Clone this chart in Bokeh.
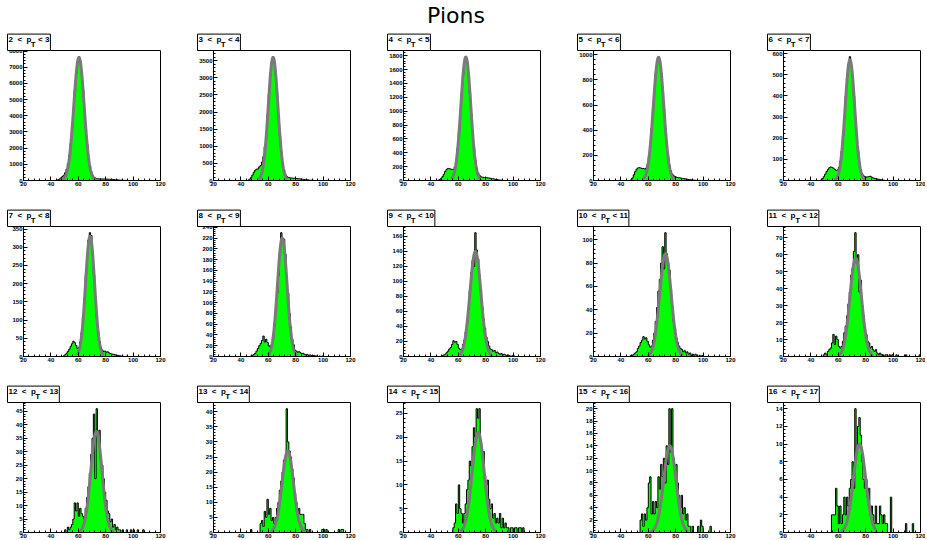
import numpy as np
from bokeh.plotting import figure
from bokeh.layouts import column, row
from bokeh.models import Range1d, FixedTicker, Title, Div
from bokeh.embed import file_html
from bokeh.resources import INLINE

# transverse-momentum slices (GeV/c)
pt_low = list(range(2, 17))
pt_high = list(range(3, 18))

X_MIN, X_MAX = 20, 120   # histogram axis range, unit-wide bins

# bin contents: first bin's left edge, then consecutive counts
start_2_3 = 44
counts_2_3 = [20, 50, 100, 170, 250, 330, 480, 700, 1050, 1580, 2300, 3250, 4400, 5550, 6600,
              7350, 7650, 7350, 6650, 5600, 4400, 3250, 2250, 1450, 900, 540, 330, 210, 150, 120,
              105, 100, 95, 95, 90, 90, 85, 85, 80, 75, 70, 60, 55, 45, 40, 30, 25, 20, 15, 10, 8, 5]
start_3_4 = 45
counts_3_4 = [15, 40, 90, 160, 240, 300, 330, 340, 400, 440, 540, 700, 990, 1400, 1920, 2520,
              3070, 3460, 3620, 3460, 3060, 2500, 1880, 1310, 850, 520, 310, 180, 120, 90, 80, 75,
              70, 65, 65, 60, 55, 50, 45, 40, 35, 30, 25, 20, 15, 10, 8, 5]
start_4_5 = 45
counts_4_5 = [5, 15, 30, 55, 90, 130, 160, 175, 170, 165, 160, 160, 200, 300, 460, 690, 965, 1260,
              1525, 1710, 1785, 1715, 1530, 1265, 965, 690, 460, 290, 180, 110, 75, 55, 48, 45, 42,
              40, 38, 35, 32, 28, 25, 20, 16, 12, 9, 6, 4, 2]
start_5_6 = 47
counts_5_6 = [5, 20, 45, 70, 90, 100, 102, 100, 95, 95, 91, 99, 127, 190, 290, 418, 568, 720, 856,
              950, 985, 950, 856, 720, 568, 418, 290, 190, 122, 78, 52, 38, 30, 27, 24, 22, 20, 18,
              16, 14, 12, 10, 8, 7, 5, 4, 3, 2]
start_6_7 = 47
counts_6_7 = [2, 8, 18, 30, 42, 52, 60, 64, 62, 58, 52, 48, 50, 62, 90, 138, 210, 300, 398, 488,
              550, 585, 540, 488, 398, 300, 210, 138, 85, 52, 32, 22, 18, 16, 17, 19, 20, 15, 12,
              10, 9, 7, 6, 5, 3, 2, 1]
start_7_8 = 49
counts_7_8 = [2, 5, 9, 14, 20, 28, 35, 42, 38, 30, 22, 25, 40, 66, 108, 160, 222, 278, 320, 340,
              332, 282, 224, 162, 110, 68, 42, 26, 18, 14, 15, 12, 13, 10, 8, 7, 6, 5, 4, 3, 3, 2,
              1, 1, 0, 0, 1]
start_8_9 = 47
counts_8_9 = [1, 2, 4, 6, 10, 15, 20, 24, 30, 38, 27, 32, 26, 20, 18, 22, 34, 55, 82, 118, 150,
              192, 230, 214, 218, 190, 150, 118, 80, 55, 32, 22, 12, 10, 8, 9, 7, 5, 6, 4, 3, 4, 2,
              3, 2, 1, 2, 1, 1, 0, 1, 0, 1]
start_9_10 = 48
counts_9_10 = [1, 2, 3, 5, 7, 10, 12, 16, 21, 19, 20, 16, 11, 9, 10, 16, 22, 33, 46, 62, 88, 112,
               128, 120, 165, 142, 130, 108, 90, 66, 50, 38, 26, 20, 14, 10, 9, 7, 8, 5, 6, 4, 3,
               4, 2, 3, 2, 1, 2, 1, 0, 1, 1]
start_10_11 = 47
counts_10_11 = [1, 1, 2, 3, 4, 7, 9, 12, 14, 17, 15, 16, 13, 10, 8, 9, 14, 20, 30, 42, 56, 66, 80,
                94, 75, 106, 88, 80, 74, 58, 42, 30, 24, 16, 12, 9, 7, 6, 4, 5, 3, 4, 2, 3, 1, 2,
                1, 2, 1, 0, 1, 0, 1]
start_11_12 = 49
counts_11_12 = [1, 2, 1, 3, 4, 5, 8, 13, 7, 12, 10, 6, 5, 6, 9, 14, 18, 24, 31, 38, 48, 52, 62, 73,
                55, 60, 38, 45, 30, 24, 16, 13, 9, 8, 5, 6, 4, 3, 4, 2, 1, 2, 1, 1, 0, 1, 1, 0, 1,
                0, 1, 0, 0, 1, 0, 0, 0, 0, 0, 0, 1, 0, 0, 0, 0, 0, 0, 0, 0, 0, 1]
start_12_13 = 50
counts_12_13 = [1, 0, 2, 1, 2, 3, 5, 11, 8, 11, 6, 9, 7, 6, 5, 9, 13, 17, 22, 29, 35, 44, 20, 46,
                36, 38, 27, 25, 20, 15, 12, 8, 7, 4, 5, 2, 3, 1, 2, 1, 1, 0, 1, 0, 0, 1, 0, 0, 1,
                0, 1, 0, 0, 1, 0, 0, 0, 1]
start_13_14 = 47
counts_13_14 = [1, 0, 0, 0, 0, 0, 0, 3, 4, 2, 7, 5, 11, 6, 8, 4, 5, 3, 5, 8, 10, 14, 17, 20, 24,
                25, 41, 30, 27, 25, 21, 18, 13, 10, 6, 8, 6, 6, 6, 3, 1, 1, 0, 1, 0, 0, 0, 0, 0,
                0, 0, 0, 1, 1, 0, 1, 0, 0, 0, 0, 0, 0, 0, 0, 1, 0, 1, 1]
start_14_15 = 56
counts_14_15 = [1, 2, 6, 4, 10, 5, 4, 2, 4, 6, 9, 11, 15, 14, 18, 22, 20, 26, 24, 26, 19, 16, 17,
                12, 10, 11, 7, 5, 6, 3, 4, 2, 3, 2, 4, 1, 3, 1, 2, 1, 1, 0, 1, 1, 0, 1, 1, 0, 1,
                1, 0, 1]
start_15_16 = 54
counts_15_16 = [2, 3, 1, 3, 2, 4, 8, 9, 3, 5, 3, 5, 4, 9, 7, 11, 9, 12, 8, 14, 11, 20, 13, 20, 12,
                10, 11, 8, 6, 4, 6, 3, 4, 2, 3, 1, 1, 0, 1, 0, 0, 0, 1, 0, 2, 1, 0, 0, 0, 0, 0, 1]
start_16_17 = 55
counts_16_17 = [2, 2, 2, 5, 3, 1, 3, 1, 2, 4, 2, 4, 3, 5, 6, 8, 5, 14, 9, 12, 13, 11, 8, 6, 5, 6,
                4, 5, 2, 3, 2, 1, 3, 1, 1, 3, 2, 1, 2, 1, 1, 0, 0, 4, 0, 0, 0, 0, 0, 0, 0, 0, 0, 0,
                1, 0, 0, 0, 0, 1]

hist_starts = [start_2_3, start_3_4, start_4_5, start_5_6, start_6_7, start_7_8, start_8_9,
               start_9_10, start_10_11, start_11_12, start_12_13, start_13_14, start_14_15,
               start_15_16, start_16_17]
hist_counts = [counts_2_3, counts_3_4, counts_4_5, counts_5_6, counts_6_7, counts_7_8, counts_8_9,
               counts_9_10, counts_10_11, counts_11_12, counts_12_13, counts_13_14, counts_14_15,
               counts_15_16, counts_16_17]

# Gaussian fit to the main peak of each slice
fit_amp = [7600, 3600, 1780, 980, 570, 330, 220, 140, 88, 58, 37.5, 27, 21, 14, 10]
fit_mean = [60.5, 63.5, 65.5, 67.5, 68.5, 68.6, 70.2, 72.5, 72.5, 72.7, 73.2, 74.2, 74.5, 75.7, 75.5]
fit_sigma = [3.8, 3.5, 3.6, 3.8, 3.5, 3.3, 3.5, 4.0, 4.2, 4.2, 4.1, 4.2, 4.4, 4.5, 4.5]
fit_lo = [47, 52.5, 55, 56, 57, 59, 60, 60, 59.5, 59.5, 60.5, 62, 61, 61, 62]
fit_hi = [74, 74, 76, 79, 80, 78.5, 81, 84.5, 85.5, 85.5, 86, 87, 88, 89, 88]

# spacing of the labelled y ticks
y_label_step = [1000, 500, 200, 200, 100, 50, 20, 20, 20, 10, 5, 5, 5, 2, 2]

FILL = "#00ff00"
FIT = "#7a7a7a"
FONT = "Liberation Sans"
NB = "\u00a0"

GLYPH_W = {"<": 0.584, "p": 0.611, NB: 0.278, " ": 0.278}


def text_width(s, size):
    return size * sum(GLYPH_W.get(ch, 0.556) for ch in s)


def style_axis(ax):
    ax.axis_line_color = "black"
    ax.major_tick_line_color = "black"
    ax.minor_tick_line_color = "black"
    ax.major_tick_in = 4
    ax.major_tick_out = 0
    ax.minor_tick_in = 2
    ax.minor_tick_out = 0
    ax.major_label_text_font = FONT
    ax.major_label_text_font_style = "bold"
    ax.major_label_text_font_size = "6px"
    ax.major_label_text_color = "black"
    ax.major_label_standoff = 1


def slice_title(i, fs):
    # "lo < p_T < hi": the T sits on a second, tightly spaced line under the p
    pre = f"{pt_low[i]}{NB}{NB}<{NB}{NB}p"
    first = pre + NB * 3 + f"<{NB}{pt_high[i]}"
    n_pad = int(round(text_width(pre, fs) / text_width(NB, fs)))
    return first + "\n" + NB * n_pad + "T"


def make_panel(i):
    col, r = i % 5, i // 5
    counts = np.zeros(X_MAX - X_MIN)
    c = np.asarray(hist_counts[i], dtype=float)
    s0 = hist_starts[i] - X_MIN
    counts[s0:s0 + len(c)] = c
    edges = np.arange(X_MIN, X_MAX + 1)
    y_step = np.append(counts, counts[-1])
    top = 1.05 * counts.max()

    fs = 8
    title = Title(text=slice_title(i, fs), align="left", offset=-16, standoff=0,
                  text_font=FONT, text_font_style="bold", text_font_size=f"{fs}px",
                  text_line_height=0.6, text_color="black",
                  border_line_color="black", border_line_width=1,
                  background_fill_color="white", padding=1)

    p = figure(width=190 if col < 4 else 165, height=176 if r < 2 else 162,
               x_range=Range1d(X_MIN, X_MAX), y_range=Range1d(0, top),
               toolbar_location=None, output_backend="svg", title=title,
               min_border_left=23, min_border_right=30 if col < 4 else 5,
               min_border_top=24, min_border_bottom=22 if r < 2 else 8)
    p.xgrid.grid_line_color = None
    p.ygrid.grid_line_color = None
    p.outline_line_color = "black"
    p.outline_line_width = 1

    p.varea_step(x=edges, y1=0, y2=y_step, step_mode="after", fill_color=FILL)
    p.step(x=edges, y=y_step, mode="after", line_color="black", line_width=1)

    xs = np.linspace(fit_lo[i], fit_hi[i], 160)
    ys = fit_amp[i] * np.exp(-0.5 * ((xs - fit_mean[i]) / fit_sigma[i]) ** 2)
    p.line(xs, ys, line_color=FIT, line_width=3)

    xt = list(range(X_MIN, X_MAX + 1, 20))
    xm = [v for v in range(X_MIN, X_MAX + 1, 4) if v not in xt]
    p.xaxis.ticker = FixedTicker(ticks=xt, minor_ticks=xm)
    st = y_label_step[i]
    yt = [k * st for k in range(int(top // st) + 1)]
    ym = [k * st / 5 for k in range(int(top // (st / 5)) + 1)]
    p.yaxis.ticker = FixedTicker(ticks=yt, minor_ticks=ym)
    style_axis(p.xaxis[0])
    style_axis(p.yaxis[0])
    return p


head = Div(text="Pions", width=912, height=26, margin=0,
           styles={"font-family": "'DejaVu Sans'", "font-size": "22px", "line-height": "20px",
                   "padding-top": "6px", "text-align": "center", "color": "black"})

panels = [make_panel(i) for i in range(15)]
layout = column(head, row(panels[0:5]), row(panels[5:10]), row(panels[10:15]))

with open("out.html", "w") as f:
    f.write(file_html(layout, INLINE, title="Pions"))
